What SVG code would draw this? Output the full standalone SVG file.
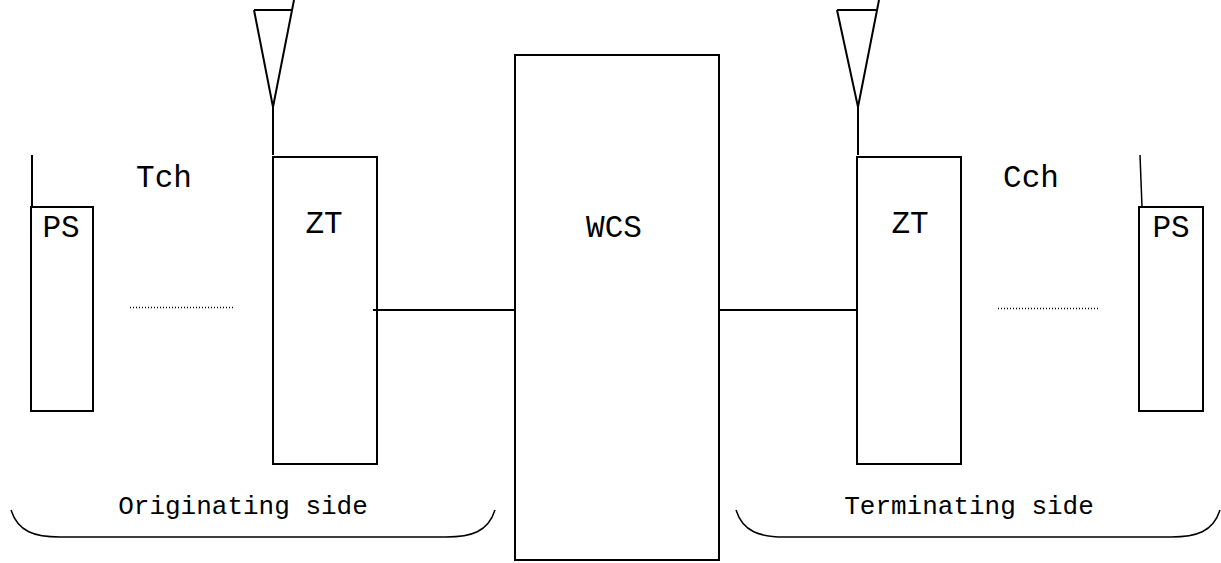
<svg xmlns="http://www.w3.org/2000/svg" width="1221" height="563" viewBox="0 0 1221 563">
  <style>
    .box { fill: #fff; stroke: #000; stroke-width: 2; }
    .ln { fill: none; stroke: #000; stroke-width: 2; }
    .thin { fill: none; stroke: #000; stroke-width: 1.5; }
    .dot { fill: none; stroke: #000; stroke-width: 1.5; stroke-dasharray: 1 2; }
    .lbl { font-family: "Liberation Mono", "DejaVu Sans Mono", monospace; font-size: 31px; fill: #000; text-anchor: middle; }
    .side { font-family: "Liberation Mono", "DejaVu Sans Mono", monospace; font-size: 26px; fill: #000; text-anchor: middle; }
  </style>
  <rect width="1221" height="563" fill="#fff"/>

  <!-- originating handset -->
  <g id="ps-left">
    <line class="ln" x1="32" y1="155" x2="32" y2="207"/>
    <rect class="box" x="31" y="207" width="62" height="204"/>
    <text class="lbl" x="61" y="237">PS</text>
  </g>

  <!-- originating zone terminal with antenna -->
  <g id="zt-left">
    <path class="ln" d="M254,10 L292,10 M294,0 L273,107 L254,10 M273,107 L273,155"/>
    <rect class="box" x="273" y="157" width="104" height="307"/>
    <text class="lbl" x="324" y="233">ZT</text>
  </g>

  <!-- central switch -->
  <g id="wcs">
    <rect class="box" x="515" y="55" width="204" height="505"/>
    <text class="lbl" x="614" y="237">WCS</text>
  </g>

  <!-- terminating zone terminal with antenna -->
  <g id="zt-right">
    <path class="ln" d="M837,10 L877,10 M879,0 L858,107 L837,10 M858,107 L858,155"/>
    <rect class="box" x="857" y="157" width="104" height="307"/>
    <text class="lbl" x="910" y="233">ZT</text>
  </g>

  <!-- terminating handset -->
  <g id="ps-right">
    <line class="thin" x1="1140" y1="155" x2="1142" y2="207"/>
    <rect class="box" x="1139" y="207" width="64" height="204"/>
    <text class="lbl" x="1171" y="237">PS</text>
  </g>

  <!-- links -->
  <g id="connectors">
    <line class="ln" x1="373" y1="310" x2="515" y2="310"/>
    <line class="ln" x1="719" y1="310" x2="857" y2="310"/>
    <line class="dot" x1="130" y1="307.5" x2="233" y2="307.5"/>
    <line class="dot" x1="998" y1="308.5" x2="1098" y2="308.5"/>
  </g>

  <!-- channel labels -->
  <text class="lbl" x="164" y="187">Tch</text>
  <text class="lbl" x="1031" y="187">Cch</text>

  <!-- side braces -->
  <g id="brace-left">
    <path class="thin" d="M11,510 C18,532 35,537 60,537 L446,537 C471,537 488,532 495,510"/>
    <text class="side" x="243" y="514">Originating side</text>
  </g>
  <g id="brace-right">
    <path class="thin" d="M736,510 C743,532 760,537 785,537 L1171,537 C1196,537 1213,532 1220,510"/>
    <text class="side" x="969" y="514">Terminating side</text>
  </g>
</svg>
